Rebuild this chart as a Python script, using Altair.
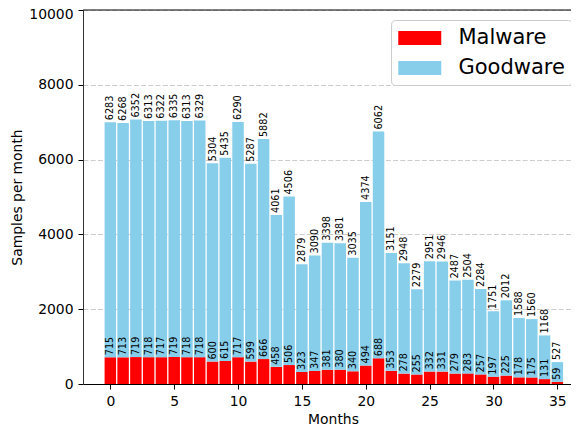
import altair as alt
import pandas as pd

months = list(range(36))
goodware = [6283, 6268, 6352, 6313, 6322, 6335, 6313, 6329, 5304, 5435, 6290, 5287,
            5882, 4061, 4506, 2879, 3090, 3398, 3381, 3035, 4374, 6062, 3151, 2948,
            2279, 2951, 2946, 2487, 2504, 2284, 1751, 2012, 1588, 1560, 1168, 527]
malware = [715, 713, 719, 718, 717, 719, 718, 718, 600, 615, 717, 599,
           666, 458, 506, 323, 347, 381, 380, 340, 494, 688, 353, 278,
           255, 332, 331, 279, 283, 257, 197, 225, 178, 175, 131, 59]
kinds = ["Malware", "Goodware"]
colors = ["#ff0000", "#87ceeb"]
x_ticks = [0, 5, 10, 15, 20, 25, 30, 35]
y_ticks = [0, 2000, 4000, 6000, 8000, 10000]
y_max = 10000

rows = []
for m, g, w in zip(months, goodware, malware):
    rows.append(dict(month=m, kind="Malware", value=w, label=str(w), lo=0, hi=w))
    rows.append(dict(month=m, kind="Goodware", value=g, label=str(g), lo=w, hi=w + g))
df = pd.DataFrame(rows)

FONT = "DejaVu Sans"
xscale = alt.Scale(domain=[-2.14, 36.07], nice=False, zero=False)
yscale = alt.Scale(domain=[0, y_max], nice=False)

base = alt.Chart(df).transform_calculate(
    x0="datum.month - 0.45", x1="datum.month + 0.45"
)

bars = base.mark_bar().encode(
    x=alt.X("x0:Q", scale=xscale, title="Months",
            axis=alt.Axis(values=x_ticks, titleX=250, titleFontSize=13.9,
                          titleFontWeight="normal", titleColor="black", titleFont=FONT,
                          labelFontSize=13.9, labelColor="black", labelFont=FONT,
                          tickSize=5, tickColor="black", domainColor="black",
                          labelPadding=5, titlePadding=5, grid=False,
                          labelFlush=False, labelOverlap=False)),
    x2="x1:Q",
    y=alt.Y("lo:Q", scale=yscale, title="Samples per month",
            axis=alt.Axis(values=y_ticks, format="d", titleFontSize=13.9,
                          titleFontWeight="normal",
                          titleColor="black", titleFont=FONT,
                          labelFontSize=13.9, labelColor="black", labelFont=FONT,
                          labelOffset=alt.condition(f"datum.value == {y_max}",
                                                    alt.value(4), alt.value(0)),
                          tickSize=5, tickColor="black", domainColor="#333333",
                          labelPadding=5, titlePadding=4, grid=True,
                          gridColor="#cccccc", gridDash=[5, 2.2], gridWidth=1,
                          labelFlush=False, labelOverlap=False)),
    y2="hi:Q",
    color=alt.Color("kind:N", scale=alt.Scale(domain=kinds, range=colors),
                    legend=alt.Legend(title=None, orient="none", legendX=308, legendY=10,
                                      symbolType="M-1,-0.652H3V0.652H-1Z",
                                      symbolSize=462.25, symbolStrokeWidth=0,
                                      symbolOpacity=1,
                                      labelFontSize=21, labelFont=FONT, labelColor="black",
                                      fillColor="rgba(255,255,255,0.8)",
                                      strokeColor="#cccccc", cornerRadius=4,
                                      padding=7, rowPadding=9, labelOffset=38.5)),
)

labels = base.mark_text(angle=270, align="left", baseline="middle", dx=2,
                        fontSize=9.7, font=FONT, color="black").encode(
    x=alt.X("month:Q", scale=xscale, title="Months"),
    y=alt.Y("hi:Q", scale=yscale, title="Samples per month"),
    text="label:N",
)

top_spine = alt.Chart(pd.DataFrame({"top": [y_max]})).mark_rule(
    color="black", strokeWidth=1).encode(
    y=alt.Y("top:Q", scale=yscale, title="Samples per month"))

chart = alt.layer(bars, labels, top_spine).properties(
    width=488, height=374,
    autosize=alt.AutoSizeParams(type="none"),
    padding={"left": 75, "top": 2, "right": 0, "bottom": 43},
).configure(font=FONT).configure_view(stroke=None)

chart.save("out.html", embed_options={"renderer": "svg", "actions": False})
